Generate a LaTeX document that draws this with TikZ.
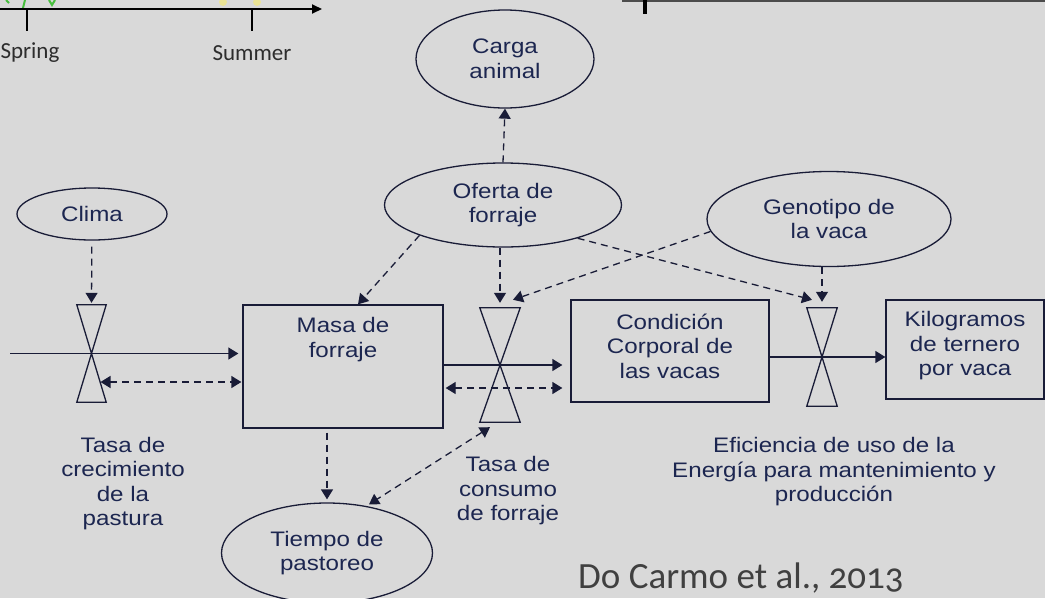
\documentclass[tikz,border=0pt]{standalone}
\usepackage{fontspec}
\setmainfont{Liberation Sans}[FakeStretch=1.15]
\newfontfamily\slidefont{Carlito}[Numbers=OldStyle]
\usetikzlibrary{arrows.meta,shapes.geometric}
\definecolor{slidegray}{RGB}{217,217,217}
\definecolor{inkblue}{RGB}{28,38,80}
\definecolor{lineblue}{RGB}{25,28,55}
\definecolor{citegray}{RGB}{64,64,64}
\definecolor{axisgray}{RGB}{45,45,45}
\definecolor{leafgreen}{RGB}{70,190,60}
\definecolor{leafyellow}{RGB}{235,228,150}
\tikzset{
  stock/.style={draw=lineblue, line width=1.3pt, rectangle},
  aux/.style={draw=lineblue, line width=1.3pt, ellipse, text=inkblue, align=center, inner sep=0pt},
  valve/.style={rectangle, inner sep=0pt},
  note/.style={text=inkblue, align=center},
  flow/.style={draw=lineblue, line width=1.3pt, -{Triangle[length=10pt,width=12pt]}},
  dep/.style={draw=lineblue, line width=1.3pt, dash pattern=on 7pt off 5pt, -{Triangle[length=10pt,width=12pt]}},
  dbl/.style={dep, {Triangle[length=10pt,width=12pt]}-{Triangle[length=10pt,width=12pt]}},
}
\begin{document}
\begin{tikzpicture}[x=1pt, y=-1pt, font=\fontsize{21}{24.5}\selectfont]
    \fill[slidegray] (0,0) rectangle (1045,598);
    \useasboundingbox (0,0) rectangle (1045,598);

    % leftover of the slide above
    \draw[leafgreen, line width=2pt] (6,0) -- (9,3);
    \draw[leafgreen, line width=2pt] (25,0) -- (23,8);
    \draw[leafgreen, line width=2pt] (49,0) -- (52,5) -- (55,0);
    \fill[leafyellow] (223,2) circle [radius=4];
    \fill[leafyellow] (257,2) circle [radius=4];
    \coordinate (axstart) at (0,9);
    \coordinate (axend) at (322,9);
    \draw[black, line width=2pt, -{Triangle[length=10pt,width=9pt]}] (axstart) -- (axend);
    \draw[black, line width=2.5pt] (27,9) -- (27,31);
    \draw[black, line width=2.5pt] (252,9) -- (252,31);
    \node[text=axisgray, font=\slidefont\fontsize{23}{26}\selectfont] (spring) at (30,53) {Spring};
    \node[text=axisgray, font=\slidefont\fontsize{23}{26}\selectfont] (summer) at (252,53) {Summer};
    \draw[gray!60!black, line width=2pt] (622,0.5) -- (1045,0.5);
    \draw[black, line width=4pt] (645,0) -- (645,14);

    \node[aux, minimum width=150pt, minimum height=52pt] (clima) at (92,214) {Clima};
    \node[aux, minimum width=178pt, minimum height=98pt] (carga) at (505,59) {Carga\\animal};
    \node[aux, minimum width=237pt, minimum height=84pt] (oferta) at (503,205) {Oferta de\\forraje};
    \node[aux, minimum width=244pt, minimum height=95pt] (genotipo) at (829,219) {Genotipo de\\la vaca};
    \node[aux, minimum width=211pt, minimum height=100pt] (tiempo) at (327,553) {Tiempo de\\pastoreo};

    \node[stock, minimum width=200pt, minimum height=123pt,
      label={[note, anchor=north, inner sep=0pt, yshift=-13pt]north:{Masa de\\forraje}}] (masa) at (343,366.5) {};
    \node[stock, minimum width=198pt, minimum height=102pt,
      label={[note, yshift=5pt]center:{Condición\\Corporal de\\las vacas}}] (cond) at (670,351) {};
    \node[stock, minimum width=158pt, minimum height=99pt,
      label={[note, yshift=3.5pt]center:{Kilogramos\\de ternero\\por vaca}}] (kilo) at (965,349.5) {};

    \node[valve, minimum width=29pt, minimum height=97pt] (v1) at (91.5,353.5) {};
    \node[valve, minimum width=40pt, minimum height=114pt] (v2) at (500,365) {};
    \node[valve, minimum width=30pt, minimum height=98pt] (v3) at (822,357) {};
    \foreach \v in {v1,v2,v3}
        \draw[lineblue, line width=1.3pt] (\v.north west) -- (\v.south east) -- (\v.south west) -- (\v.north east) -- cycle;

    \node[note] (tasacrec) at (123,483.5) {Tasa de\\crecimiento\\de la\\pastura};
    \node[note] (tasacons) at (508,491) {Tasa de\\consumo\\de forraje};
    \node[note] (eficiencia) at (834,472) {Eficiencia de uso de la\\Energía para mantenimiento y\\producción};
    \node[text=citegray, anchor=base west, inner sep=0pt, font=\slidefont\fontsize{37}{40}\selectfont] (cita) at (578,588) {Do Carmo et al., 2013};

    \coordinate (inflow) at (10,353.5);
    \draw[flow, shorten >=4pt] (inflow) -- (inflow -| masa.west);
    \draw[dep, shorten <=6pt, shorten >=2pt] (clima) -- (v1.north);
    \draw[dbl, shorten <=9pt, shorten >=1pt] (v1.center |- 0,382) -- (masa.west |- 0,382);
    \draw[flow, shorten >=8pt] (masa.east |- v2.center) -- (cond.west |- v2.center);
    \draw[dbl, shorten <=2pt, shorten >=8pt] (masa.east |- 0,388) -- (cond.west |- 0,388);
    \draw[flow] (cond.east |- v3.center) -- (kilo.west |- v3.center);
    \draw[dep] (oferta.north) -- (carga.south);
    \draw[dep] (oferta.200) -- ([xshift=15pt]masa.north);
    \draw[dep, shorten >=5pt] (v2.north |- oferta.south) -- (v2.north);
    \draw[dep] (genotipo.186) -- ([xshift=13pt,yshift=8pt]v2.north);
    \draw[dep] (oferta.336) -- ([xshift=-10pt,yshift=8pt]v3.north);
    \draw[dep, shorten >=6pt] (v3.north |- genotipo.south) -- (v3.north);
    \draw[dep, shorten <=4pt, shorten >=3pt] ([xshift=-16pt]masa.south) -- (tiempo.north);
    \draw[dbl, shorten >=3pt] ([xshift=-10pt,yshift=-5pt]v2.south) -- (tiempo.50);
\end{tikzpicture}
\end{document}
